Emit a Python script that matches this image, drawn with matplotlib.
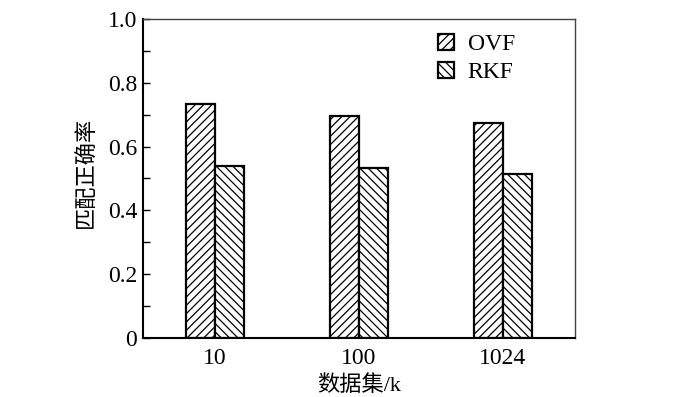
import matplotlib
matplotlib.use("Agg")
import matplotlib.pyplot as plt
import numpy as np

plt.rcParams['font.family'] = ['Liberation Serif', 'Noto Sans CJK SC']
plt.rcParams['hatch.linewidth'] = 0.9

datasets = ['10', '100', '1024']
ovf = [0.733, 0.695, 0.673]
rkf = [0.540, 0.532, 0.514]

fig = plt.figure(figsize=(7, 3.97), dpi=100)
ax = fig.add_axes([0.204, 0.149, 0.617, 0.803])

x = np.arange(len(datasets))
w = 0.2
ax.bar(x - w / 2, ovf, w, color='white', edgecolor='black', hatch='////',
       linewidth=1.6, label='OVF')
ax.bar(x + w / 2, rkf, w, color='white', edgecolor='black', hatch='\\\\\\\\',
       linewidth=1.6, label='RKF')

ax.set_xlim(-0.5, 2.5)
ax.set_ylim(0, 1.0)
ax.set_xticks(x, labels=datasets)
ax.set_yticks([0, 0.2, 0.4, 0.6, 0.8, 1.0], labels=['0', '0.2', '0.4', '0.6', '0.8', '1.0'])
ax.set_yticks(np.arange(0.1, 1.0, 0.2), minor=True)
ax.tick_params(axis='y', direction='in', length=5, width=1, labelsize=17, pad=4)
ax.tick_params(axis='y', which='minor', direction='in', length=5, width=1)
ax.tick_params(axis='x', length=0, labelsize=17, pad=7)

for s in ['left', 'bottom']:
    ax.spines[s].set_linewidth(1.5)
for s in ['top', 'right']:
    ax.spines[s].set_linewidth(1.0)
    ax.spines[s].set_color('#444444')

ax.set_xlabel('数据集/k', fontsize=16, labelpad=5)
ax.set_ylabel('匹配正确率', fontsize=16)
ax.yaxis.set_label_coords(-0.105, 0.52)

ax.legend(loc='upper left', bbox_to_anchor=(0.635, 1.02), frameon=False,
          fontsize=17, handlelength=0.65, handleheight=0.65, handletextpad=0.6,
          labelspacing=0.3)

fig.savefig('out.png', dpi=100)
